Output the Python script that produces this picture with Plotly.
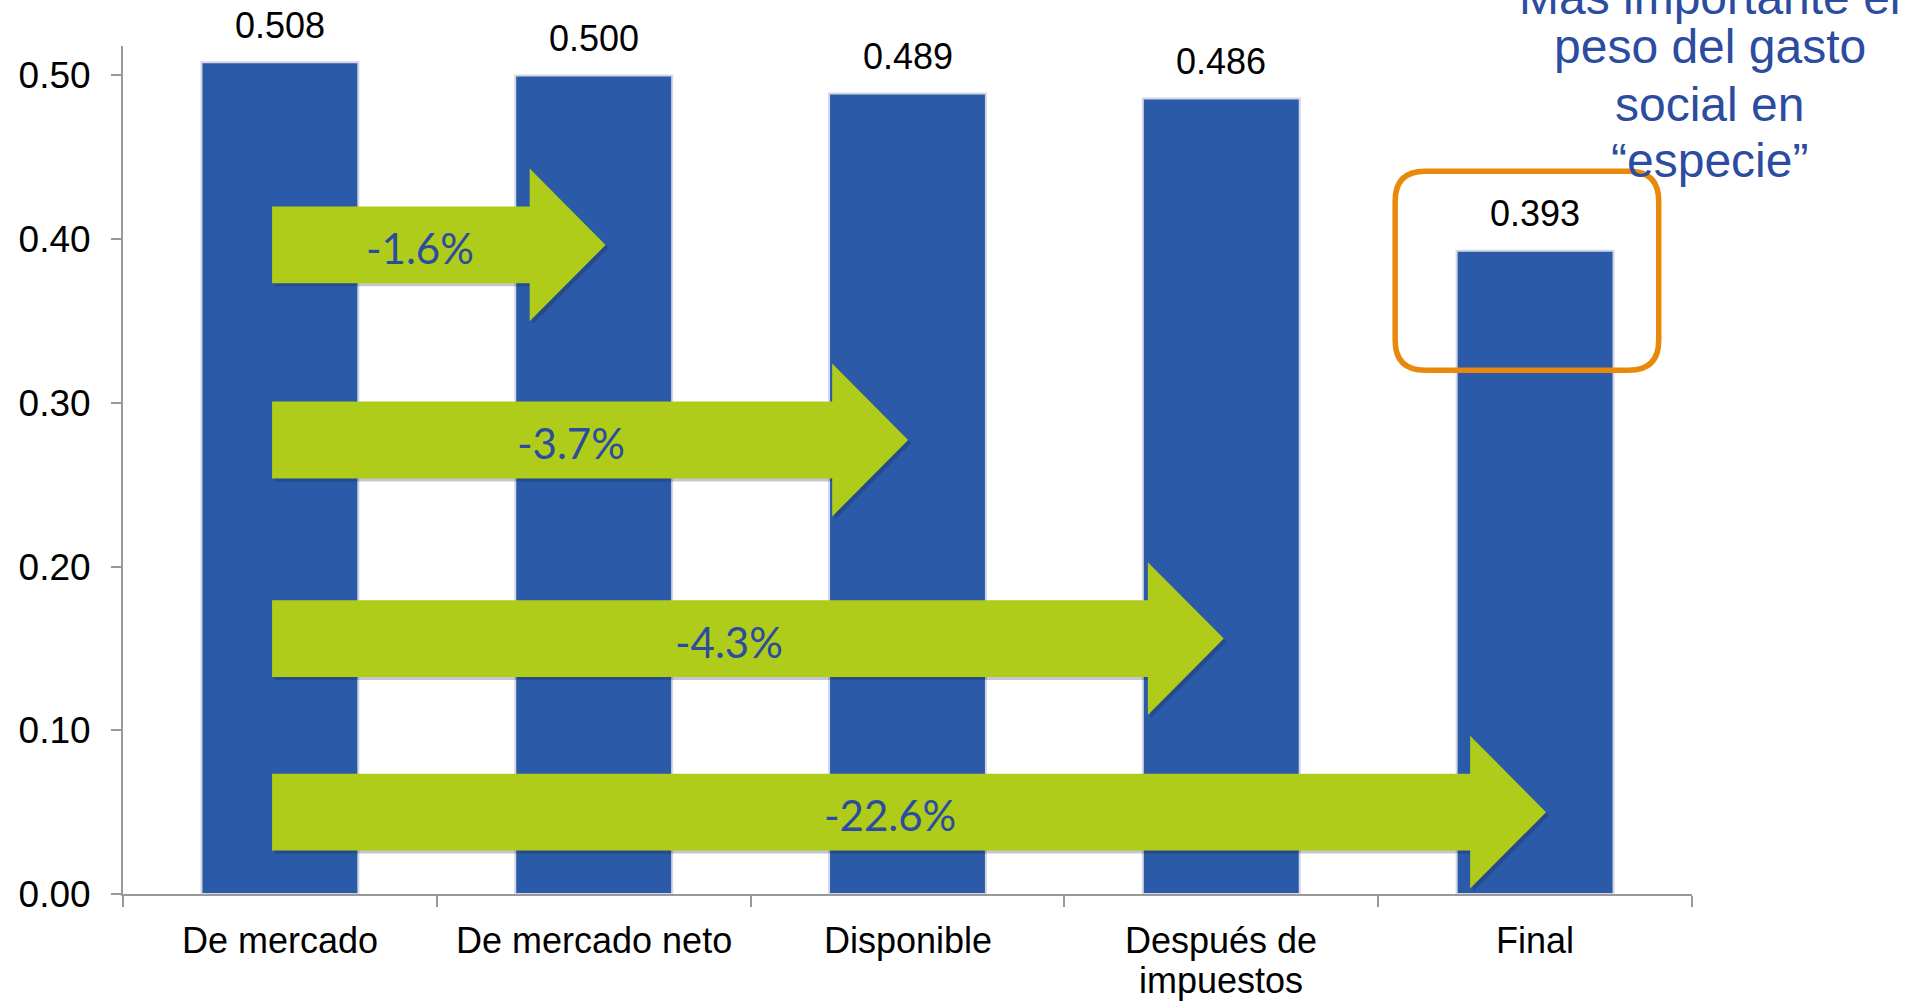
import plotly.graph_objects as go

# ---------------- data ----------------
categories = ["De mercado", "De mercado neto", "Disponible", "Después de\nimpuestos", "Final"]
gini = [0.508, 0.500, 0.489, 0.486, 0.393]
change_labels = ["-1.6%", "-3.7%", "-4.3%", "-22.6%"]
change_targets = [1, 2, 3, 4]          # category index each arrow points to
ytick_vals = [0.0, 0.1, 0.2, 0.3, 0.4, 0.5]
ytick_text = ["0.00", "0.10", "0.20", "0.30", "0.40", "0.50"]
note_lines = ["Más importante el", "peso del gasto", "social en", "“especie”"]

# ---------------- styles / layout constants ----------------
W, H = 1907, 1002
ML, MR, MT, MB = 123, 215, 46, 108
PW, PH = W - ML - MR, H - MT - MB
BAR = "#2B5AA8"
GREEN = "#AFCC1A"
ORANGE = "#E8890C"
BLUE_TXT = "#2B4C9F"
AX = "#9A9A9A"
FONT = "Liberation Sans, Arial, sans-serif"
YMAX = 0.518

def py_to_paper(py):
    return (MT + PH - py) / PH

def px_to_paper(px):
    return (px - ML) / PW

fig = go.Figure()
fig.add_trace(go.Bar(
    x=list(range(len(categories))), y=gini,
    marker=dict(color=BAR, line=dict(color="#D3D8E2", width=2)),
    hoverinfo="skip", showlegend=False,
))

shapes = []
annotations = []

# arrows (positions of the callout graphics)
arrow_start = -0.025
arrow_tip_offset = [0.038, 0.002, 0.008, 0.035]
arrow_levels = [0.3965, 0.2773, 0.156, 0.050]
body_h = 0.0235
head_h = 0.0467
head_len = 0.242
sdx, sdy = 3 / (PW / 5), -3 / (PH / YMAX)

def arrow_path(x0, xt, yc, dx=0.0, dy=0.0):
    xb = xt - head_len
    pts = [(x0, yc - body_h), (xb, yc - body_h), (xb, yc - head_h), (xt, yc),
           (xb, yc + head_h), (xb, yc + body_h), (x0, yc + body_h)]
    return "M " + " L ".join(f"{x+dx},{y+dy}" for x, y in pts) + " Z"

for lab, tgt, off, yc in zip(change_labels, change_targets, arrow_tip_offset, arrow_levels):
    xt = tgt + off
    shapes.append(dict(type="path", xref="x", yref="y", layer="above",
                       path=arrow_path(arrow_start, xt, yc, sdx, sdy),
                       fillcolor="rgba(20,30,60,0.25)", line=dict(width=0)))
    shapes.append(dict(type="path", xref="x", yref="y", layer="above",
                       path=arrow_path(arrow_start, xt, yc),
                       fillcolor=GREEN, line=dict(width=0)))
    annotations.append(dict(x=(arrow_start + xt) / 2 - 0.06, y=yc, xref="x", yref="y",
                            text=lab, showarrow=False, yanchor="middle", yshift=-3,
                            font=dict(family="Lato, Open Sans, sans-serif", size=42, color=BLUE_TXT)))

# orange rounded highlight box around the last bar
bx0, bx1, by0, by1 = 4 - 0.446, 4 + 0.394, 0.320, 0.4415
rx, ry = 0.0955, 0.0183
box_path = (f"M {bx0+rx},{by1} L {bx1-rx},{by1} Q {bx1},{by1} {bx1},{by1-ry} "
            f"L {bx1},{by0+ry} Q {bx1},{by0} {bx1-rx},{by0} L {bx0+rx},{by0} "
            f"Q {bx0},{by0} {bx0},{by0+ry} L {bx0},{by1-ry} Q {bx0},{by1} {bx0+rx},{by1} Z")
shapes.append(dict(type="path", xref="x", yref="y", layer="above", path=box_path,
                   line=dict(color=ORANGE, width=5.5), fillcolor="rgba(0,0,0,0)"))

# data labels
for i, v in enumerate(gini):
    annotations.append(dict(x=i, y=v, xref="x", yref="y", text=f"{v:.3f}",
                            showarrow=False, yanchor="middle", yshift=37,
                            font=dict(family=FONT, size=36, color="black")))

# category labels (drawn line by line to match the line spacing)
label_line_py = [940.5, 980.5]
for i, cat in enumerate(categories):
    for j, line in enumerate(cat.split("\n")):
        annotations.append(dict(x=i, y=py_to_paper(label_line_py[j]), xref="x", yref="paper",
                                text=line, showarrow=False, yanchor="middle",
                                font=dict(family=FONT, size=36, color="black")))

# note text on the right
note_py = [-2.5, 46.0, 104.5, 160.5]
for line, pyy in zip(note_lines, note_py):
    annotations.append(dict(x=px_to_paper(1710), y=py_to_paper(pyy), xref="paper", yref="paper",
                            text=line, showarrow=False, yanchor="middle", xanchor="center",
                            font=dict(family=FONT, size=48, color=BLUE_TXT)))

fig.update_layout(
    width=W, height=H,
    margin=dict(l=ML, r=MR, t=MT, b=MB, pad=0),
    paper_bgcolor="white", plot_bgcolor="white",
    bargap=0.5, showlegend=False,
    shapes=shapes, annotations=annotations,
    xaxis=dict(type="linear", range=[-0.5, 4.5], showgrid=False, zeroline=False,
               showline=True, linecolor=AX, linewidth=2,
               tickmode="array", tickvals=[-0.5, 0.5, 1.5, 2.5, 3.5, 4.5],
               ticktext=[""] * 6, ticks="outside", ticklen=11, tickcolor=AX, tickwidth=1.5,
               showticklabels=False, fixedrange=True),
    yaxis=dict(range=[0, YMAX], showgrid=False, zeroline=False,
               showline=True, linecolor=AX, linewidth=2,
               tickmode="array", tickvals=ytick_vals, ticktext=ytick_text,
               ticks="outside", ticklen=10, tickcolor=AX, tickwidth=1.5,
               ticklabelstandoff=13,
               tickfont=dict(family=FONT, size=37, color="black"), fixedrange=True),
    font=dict(family=FONT),
)

fig.write_html("out.html", config={"displayModeBar": False},
               post_script="document.body.style.margin='0';document.body.style.overflow='hidden';")
